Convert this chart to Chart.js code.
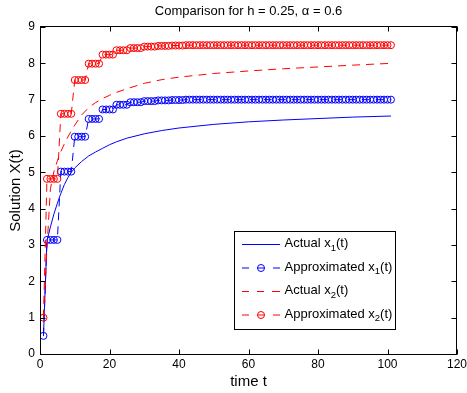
<!DOCTYPE html>
<html><head><meta charset="utf-8">
<script src="https://cdn.jsdelivr.net/npm/chart.js@4/dist/chart.umd.min.js"></script>
<style>html,body{margin:0;padding:0;background:#fff;overflow:hidden}#wrap{width:467px;height:393px}</style>
</head><body><div id="wrap"><canvas id="c" width="467" height="393"></canvas></div>
<script>
// ---- data ----
const chartTitle = 'Comparison for h = 0.25, \u03b1 = 0.6';
const xTicks = [0, 20, 40, 60, 80, 100, 120];
const yTicks = [0, 1, 2, 3, 4, 5, 6, 7, 8, 9];

const tActual = [1,2,3,4,5,6,7,8,9,10,12,14,16,18,20,22,25,30,35,40,50,60,70,80,90,101];
const x1Actual = [0.5,3.1,3.5,3.85,4.15,4.42,4.66,4.85,5.0,5.12,5.3,5.45,5.56,5.66,5.76,5.84,5.94,6.06,6.15,6.22,6.32,6.39,6.44,6.48,6.52,6.55];
const x2Actual = [1.0,2.9,4.55,5.02,5.32,5.57,5.78,5.97,6.14,6.3,6.58,6.78,6.92,7.03,7.12,7.2,7.3,7.45,7.55,7.62,7.72,7.79,7.85,7.9,7.95,8.0];

const tApprox = [1,2,3,4,5,6,7,8,9,10,11,12,13,14,15,16,17,18,19,20,
  21,22,23,24,25,26,27,28,29,30,31,32,33,34,35,36,37,38,39,40,
  41,42,43,44,45,46,47,48,49,50,51,52,53,54,55,56,57,58,59,60,
  61,62,63,64,65,66,67,68,69,70,71,72,73,74,75,76,77,78,79,80,
  81,82,83,84,85,86,87,88,89,90,91,92,93,94,95,96,97,98,99,100,101];
const x1Approx = [0.5,
  3.14,3.14,3.14,3.14,
  5.02,5.02,5.02,5.02,
  5.98,5.98,5.98,5.98,
  6.47,6.47,6.47,6.47,
  6.73,6.73,6.73,6.73,
  6.86,6.86,6.86,6.86,
  6.93,6.93,6.93,6.93,
  6.96,6.96,6.96,6.96,
  6.98,6.98,6.98,6.98,
  6.99,6.99,6.99,6.99,
  7.0,7.0,7.0,7.0, 7.0,7.0,7.0,7.0, 7.0,7.0,7.0,7.0, 7.0,7.0,7.0,7.0, 7.0,7.0,7.0,7.0,
  7.0,7.0,7.0,7.0, 7.0,7.0,7.0,7.0, 7.0,7.0,7.0,7.0, 7.0,7.0,7.0,7.0, 7.0,7.0,7.0,7.0,
  7.0,7.0,7.0,7.0, 7.0,7.0,7.0,7.0, 7.0,7.0,7.0,7.0, 7.0,7.0,7.0,7.0, 7.0,7.0,7.0,7.0];
const x2Approx = [1.0,
  4.82,4.82,4.82,4.82,
  6.61,6.61,6.61,6.61,
  7.54,7.54,7.54,7.54,
  7.99,7.99,7.99,7.99,
  8.24,8.24,8.24,8.24,
  8.36,8.36,8.36,8.36,
  8.42,8.42,8.42,8.42,
  8.46,8.46,8.46,8.46,
  8.48,8.48,8.48,8.48,
  8.49,8.49,8.49,8.49,
  8.5,8.5,8.5,8.5, 8.5,8.5,8.5,8.5, 8.5,8.5,8.5,8.5, 8.5,8.5,8.5,8.5, 8.5,8.5,8.5,8.5,
  8.5,8.5,8.5,8.5, 8.5,8.5,8.5,8.5, 8.5,8.5,8.5,8.5, 8.5,8.5,8.5,8.5, 8.5,8.5,8.5,8.5,
  8.5,8.5,8.5,8.5, 8.5,8.5,8.5,8.5, 8.5,8.5,8.5,8.5, 8.5,8.5,8.5,8.5, 8.5,8.5,8.5,8.5];

const seriesNames = ['Actual x', 'Approximated x', 'Actual x', 'Approximated x'];
const seriesSubs = ['1', '1', '2', '2'];
const BLUE = '#0000ff', RED = '#ff0000';
const FONT = '"Liberation Sans", Arial, Helvetica, sans-serif';
const DASH = [8, 6];

const pts = (xs, ys) => xs.map((v, i) => ({x: v, y: ys[i]}));

const decor = {
  id: 'decor',
  afterDraw(chart) {
    const {ctx, chartArea: a, scales: {x, y}} = chart;
    ctx.save();
    ctx.strokeStyle = '#000';
    ctx.lineWidth = 1;
    const L = Math.round(a.left) + 0.5, R = Math.round(a.right) - 0.5;
    const T = Math.round(a.top) - 0.5, B = Math.round(a.bottom) + 0.5;
    ctx.strokeRect(L, T, R - L, B - T);
    const tl = 5;
    ctx.beginPath();
    xTicks.forEach(v => {
      const px = Math.round(x.getPixelForValue(v)) + 0.5;
      ctx.moveTo(px, B); ctx.lineTo(px, B - tl);
      ctx.moveTo(px, T); ctx.lineTo(px, T + tl);
    });
    yTicks.forEach(v => {
      const py = Math.round(y.getPixelForValue(v)) + 0.5;
      ctx.moveTo(L, py); ctx.lineTo(L + tl, py);
      ctx.moveTo(R, py); ctx.lineTo(R - tl, py);
    });
    ctx.stroke();

    // title
    ctx.fillStyle = '#000';
    ctx.font = '13px ' + FONT;
    ctx.textAlign = 'center';
    ctx.textBaseline = 'middle';
    ctx.fillText(chartTitle, (a.left + a.right) / 2, 11);
    // axis titles
    ctx.font = '15px ' + FONT;
    ctx.fillText('time t', (a.left + a.right) / 2, 382);
    ctx.save();
    ctx.translate(16, (a.top + a.bottom) / 2);
    ctx.rotate(-Math.PI / 2);
    ctx.fillText('Solution X(t)', 0, 0);
    ctx.restore();

    // legend
    const bx = 234.5, by = 231.5, bw = 161, bh = 98;
    ctx.fillStyle = '#fff';
    ctx.fillRect(bx, by, bw, bh);
    ctx.strokeStyle = '#000';
    ctx.strokeRect(bx, by, bw, bh);
    const rows = [244.5, 268, 291.5, 315];
    const colors = [BLUE, BLUE, RED, RED];
    rows.forEach((ry, i) => {
      ctx.strokeStyle = colors[i];
      ctx.lineWidth = 1;
      ctx.setLineDash([]);
      ctx.beginPath();
      if (i === 0) {
        ctx.moveTo(242, ry); ctx.lineTo(280, ry);
      } else if (i === 2) {
        ctx.moveTo(242, ry); ctx.lineTo(249, ry);
        ctx.moveTo(257, ry); ctx.lineTo(264, ry);
        ctx.moveTo(272, ry); ctx.lineTo(280, ry);
      } else {
        ctx.moveTo(242, ry); ctx.lineTo(249, ry);
        ctx.moveTo(273, ry); ctx.lineTo(280, ry);
        ctx.moveTo(264.5, ry); ctx.arc(261, ry, 3.5, 0, Math.PI * 2);
        ctx.moveTo(257.5, ry); ctx.lineTo(264.5, ry);
      }
      ctx.stroke();
      ctx.fillStyle = '#000';
      ctx.textAlign = 'left';
      ctx.textBaseline = 'middle';
      ctx.font = '13px ' + FONT;
      let tx = 284.5;
      const ty = ry - 1;
      ctx.fillText(seriesNames[i], tx, ty);
      tx += ctx.measureText(seriesNames[i]).width;
      ctx.font = '9.5px ' + FONT;
      ctx.fillText(seriesSubs[i], tx, ty + 4.5);
      tx += ctx.measureText(seriesSubs[i]).width;
      ctx.font = '13px ' + FONT;
      ctx.fillText('(t)', tx, ty);
    });
    ctx.restore();
  }
};

new Chart(document.getElementById('c'), {
  type: 'line',
  data: {
    datasets: [
      {data: pts(tActual, x1Actual), borderColor: BLUE, borderWidth: 1, pointRadius: 0, order: 4},
      {data: pts(tApprox, x1Approx), borderColor: BLUE, borderWidth: 1, borderDash: DASH,
       pointRadius: 3.5, pointStyle: 'circle', pointBorderColor: BLUE, pointBackgroundColor: 'rgba(0,0,0,0)', pointBorderWidth: 1, order: 3},
      {data: pts(tActual, x2Actual), borderColor: RED, borderWidth: 1, borderDash: DASH, pointRadius: 0, order: 2},
      {data: pts(tApprox, x2Approx), borderColor: RED, borderWidth: 1, borderDash: DASH,
       pointRadius: 3.5, pointStyle: 'circle', pointBorderColor: RED, pointBackgroundColor: 'rgba(0,0,0,0)', pointBorderWidth: 1, order: 1}
    ]
  },
  options: {
    responsive: false,
    animation: false,
    devicePixelRatio: 1,
    layout: {padding: {left: 0, right: 10, top: 27, bottom: 0}},
    plugins: {legend: {display: false}, title: {display: false}, tooltip: {enabled: false}},
    elements: {line: {tension: 0}},
    scales: {
      x: {
        type: 'linear', min: 0, max: 120,
        afterBuildTicks: s => { s.ticks = xTicks.map(v => ({value: v})); },
        grid: {display: false, drawTicks: false}, border: {display: false},
        ticks: {color: '#000', font: {family: FONT, size: 12}, padding: 3, maxRotation: 0},
        afterFit: s => { s.height = 39; s.paddingLeft = 0; s.paddingRight = 0; }
      },
      y: {
        type: 'linear', min: 0, max: 9,
        afterBuildTicks: s => { s.ticks = yTicks.map(v => ({value: v})); },
        grid: {display: false, drawTicks: false}, border: {display: false},
        ticks: {color: '#000', font: {family: FONT, size: 12}, padding: 5},
        afterFit: s => { s.width = 40; s.paddingTop = 0; s.paddingBottom = 0; }
      }
    }
  },
  plugins: [decor]
});
</script>
</body></html>
